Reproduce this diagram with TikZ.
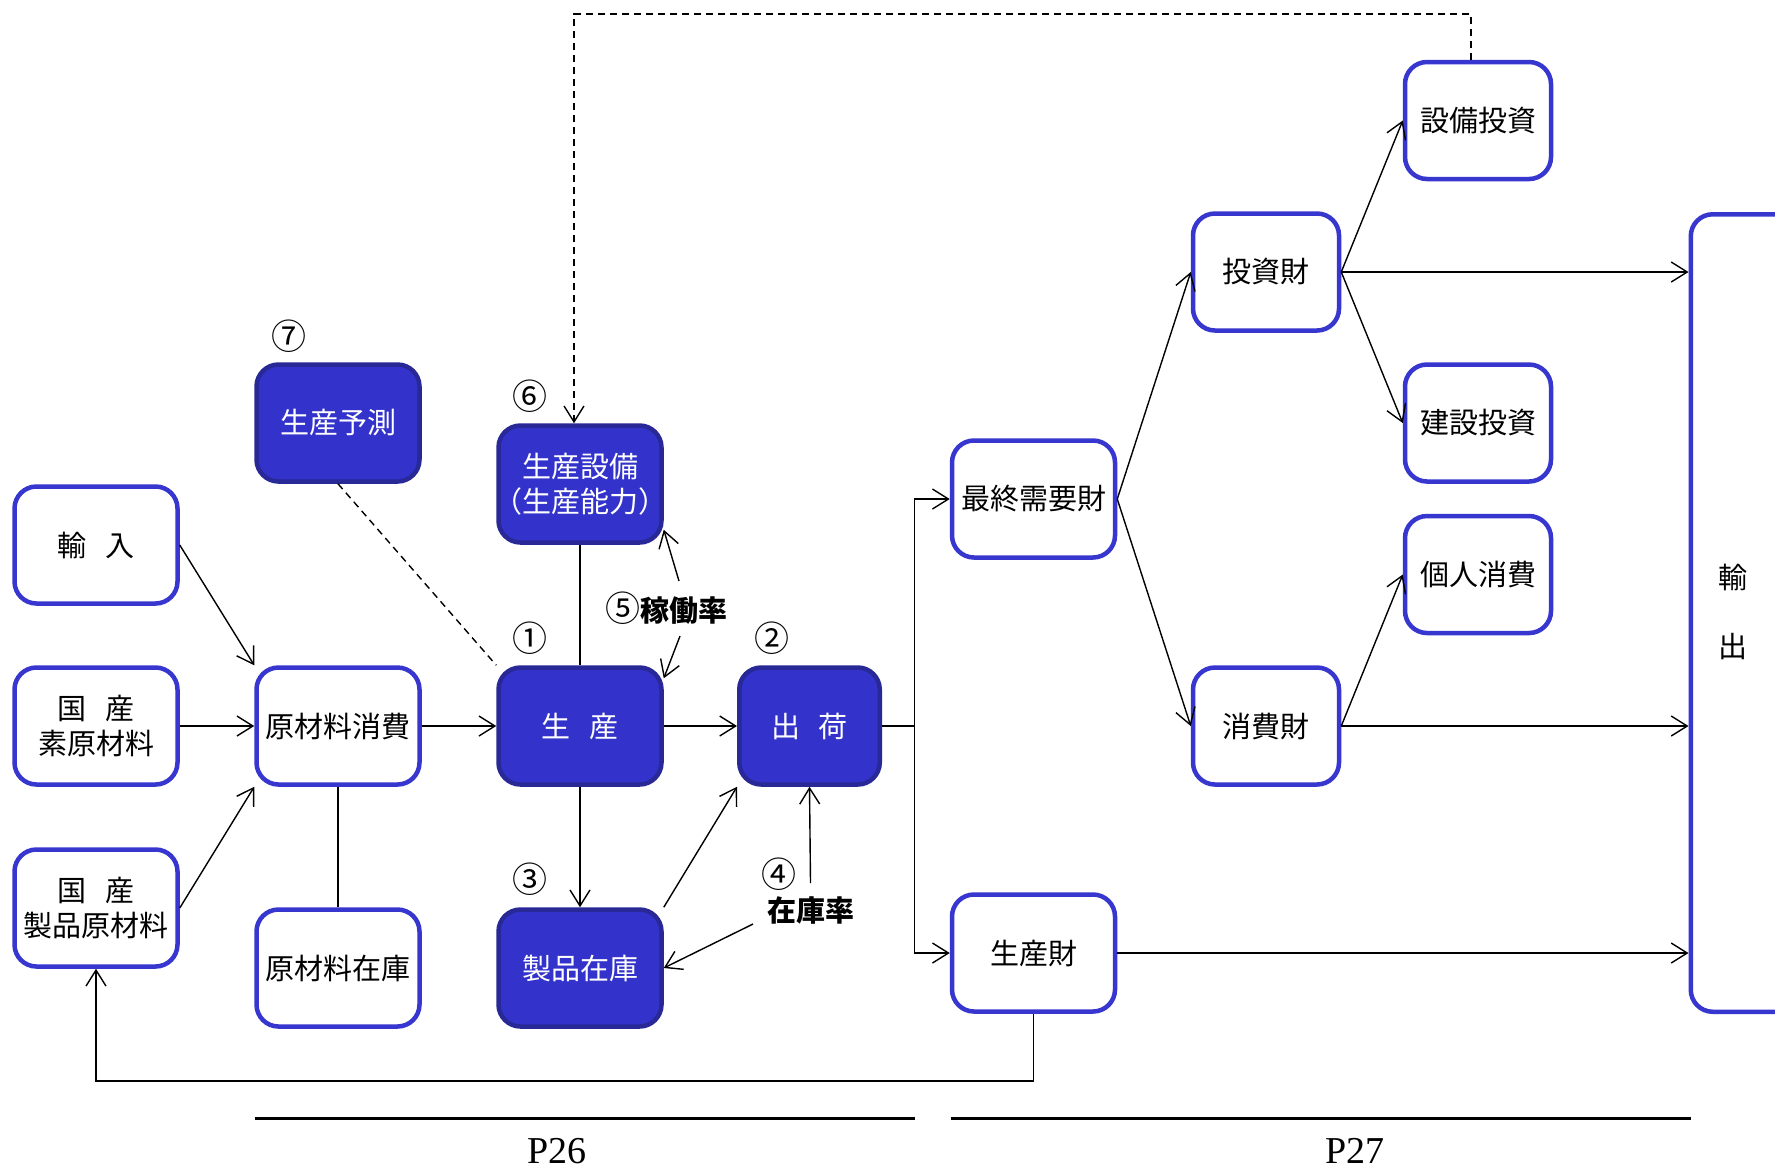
\documentclass[tikz,border=0pt]{standalone}
\usepackage{fontspec}
\setmainfont{Noto Sans CJK JP}
\newfontfamily\serifnum{Liberation Serif}
\usetikzlibrary{arrows.meta,calc}
\definecolor{fblue}{RGB}{51,51,204}
\definecolor{dblue}{RGB}{40,40,150}
\definecolor{lblue}{RGB}{55,55,208}
\begin{document}
\begin{tikzpicture}[x=0.5pt,y=-0.5pt,
  box/.style={draw=lblue,line width=2.25pt,rounded corners=11pt,fill=white,
    minimum width=81.5pt,minimum height=58.5pt,inner sep=0pt,align=center,
    font=\fontsize{14.5}{17.5}\selectfont},
  fbox/.style={box,fill=fblue,draw=dblue,text=white},
  nbox/.style={minimum width=73pt},
  tip/.style={-{Straight Barb[length=8pt,width=10pt]}},
  conn/.style={line width=0.7pt,tip},
  plain/.style={line width=0.7pt},
  dline/.style={line width=0.7pt,dash pattern=on 3.5pt off 2.5pt},
  lbl/.style={font=\fontsize{14.5}{17.5}\selectfont,inner sep=0pt,align=center},
  cnum/.style={font=\fontsize{17.5}{19}\selectfont,inner sep=0pt},
  blbl/.style={font=\fontsize{14.5}{17.5}\selectfont\bfseries,inner sep=0pt},
  pg/.style={font=\serifnum\fontsize{19}{21}\selectfont,inner sep=0pt},
  rule/.style={line width=1.7pt}
]
\clip (0,0) rectangle (1775,1169);
\fill[white] (0,0) rectangle (1775,1169);

% left column
\node[box] (yunyu) at (96,545) {輸\hspace{0.65em}入};
\node[box] (sogen) at (96,726) {国\hspace{0.65em}産\\素原材料};
\node[box] (seihin) at (96,908) {国\hspace{0.65em}産\\製品原材料};
\node[box] (genshohi) at (338,726) {原材料消費};
\node[box] (genzaiko) at (338,968) {原材料在庫};
\node[fbox] (yosoku) at (338,423) {生産予測};
\node[fbox] (setsubi) at (580,484) {生産設備\\\makebox[0.5em][r]{（}生産能力\makebox[0.5em][l]{）}};
\node[fbox] (seisan) at (580,726) {生\hspace{0.65em}産};
\node[fbox] (seizaiko) at (580,968) {製品在庫};
\node[fbox,minimum width=70.25pt] (shukka) at (809.5,726) {出\hspace{0.65em}荷};

% right part
\node[box] (saishu) at (1033.5,499) {最終需要財};
\node[box] (seisanzai) at (1033.5,953) {生産財};
\node[box,nbox] (toshizai) at (1266,272) {投資財};
\node[box,nbox] (shohizai) at (1266,726) {消費財};
\node[box,nbox] (setsubitoshi) at (1478,120.5) {設備投資};
\node[box,nbox] (kensetsu) at (1478,423) {建設投資};
\node[box,nbox] (kojin) at (1478,574.5) {個人消費};
\node[box,minimum width=57.25pt,minimum height=398.75pt] (yushutsu) at (1748,613) {};
\node[lbl] (yushutsuT) at (1733,612) {輸\\[17pt]出};

% circled numbers and labels
\node[cnum] (n7) at (288.7,336) {⑦};
\node[cnum] (n6) at (530,396) {⑥};
\node[cnum] (n1) at (530,638.5) {①};
\node[cnum] (n2) at (772,638.5) {②};
\node[cnum] (n3) at (530,879.6) {③};
\node[cnum] (n4) at (779,874) {④};
\node[lbl] (kado) at (666,608) {{\fontsize{17.5}{19}\selectfont ⑤}\textbf{稼働率}};
\node[blbl] (zaiko) at (810.5,910) {在庫率};

% connectors
\draw[conn] (yunyu.east) -- (genshohi.north west);
\draw[conn] (sogen.east) -- (genshohi.west);
\draw[conn] (seihin.east) -- (genshohi.south west);
\draw[plain] (genshohi.south) -- (genzaiko.north);
\draw[conn] (genshohi.east) -- (seisan.west);
\draw[dline] (yosoku.south) -- (seisan.north west);
\draw[plain] (setsubi.south) -- (seisan.north);
\draw[conn] (seisan.east) -- (shukka.west);
\draw[conn] (seisan.south) -- (seizaiko.north);
\draw[conn] (seizaiko.north east) -- (shukka.south west);

\coordinate (k1) at (679,581);
\coordinate (k2) at (680,636);
\draw[conn] (k1) -- ($(setsubi.south east)+(0,-15)$);
\draw[conn] (k2) -- ($(seisan.north east)+(0,13)$);

\coordinate (z1) at (810.5,883);
\coordinate (z2) at (753,924);
\draw[conn] (z1) -- (shukka.south);
\draw[conn] (z2) -- (seizaiko.east);

\coordinate (dj) at (914.7,726);
\draw[plain] (shukka.east) -- (dj);
\draw[conn] (dj) |- (saishu.west);
\draw[conn] (dj) |- (seisanzai.west);

\draw[conn] (saishu.east) -- (toshizai.west);
\draw[conn] (saishu.east) -- (shohizai.west);
\draw[conn] (toshizai.east) -- (setsubitoshi.west);
\draw[conn] (toshizai.east) -- (kensetsu.west);
\draw[conn] (toshizai.east) -- (toshizai.east -| yushutsu.west);
\draw[conn] (shohizai.east) -- (kojin.west);
\draw[conn] (shohizai.east) -- (shohizai.east -| yushutsu.west);
\draw[conn] (seisanzai.east) -- (seisanzai.east -| yushutsu.west);

\coordinate (fbY) at (0,1081);
\draw[conn] (seisanzai.south) -- (seisanzai.south |- fbY) -| (seihin.south);

\coordinate (topY) at (0,14);
\coordinate (dA) at ($(setsubitoshi.north)+(-7,0)$);
\coordinate (dB) at ($(setsubi.north)+(-6,0)$);
\draw[dline,tip] (dA) |- (topY -| dB) -- (dB);

% page markers
\coordinate (r1a) at (255,1118.5);
\coordinate (r1b) at (915,1118.5);
\coordinate (r2a) at (951,1118.5);
\coordinate (r2b) at (1691,1118.5);
\draw[rule] (r1a) -- (r1b);
\draw[rule] (r2a) -- (r2b);
\node[pg] (p26) at (557,1151) {P26};
\node[pg] (p27) at (1355,1151) {P27};
\end{tikzpicture}
\end{document}
